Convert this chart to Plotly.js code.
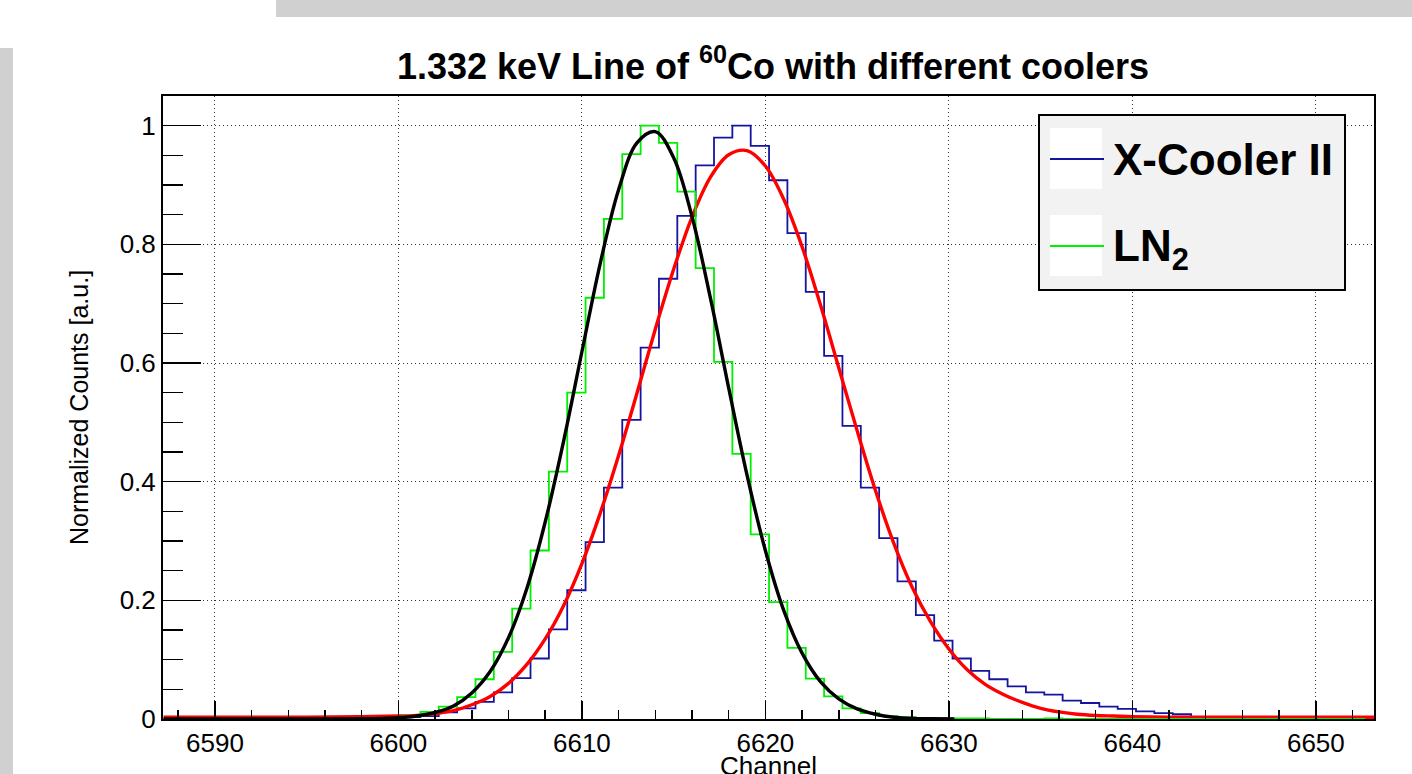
<!DOCTYPE html>
<html><head><meta charset="utf-8">
<script src="https://cdn.plot.ly/plotly-3.0.1.min.js"></script>
<style>
html,body{margin:0;padding:0;background:#fff;overflow:hidden;width:1412px;height:774px;}
#wrap{position:absolute;left:0;top:0;width:1412px;height:774px;overflow:hidden;}
#chart{position:absolute;left:0;top:0;width:1412px;height:781px;}
.gray{position:absolute;background:#d0d0d0;}
</style></head><body>
<div id="wrap"><div id="chart"></div></div>
<div class="gray" style="left:276px;top:0;width:1136px;height:17px;"></div>
<div class="gray" style="left:0;top:48px;width:13px;height:726px;"></div>
<script>
// ---- data ----
const channels = [6587.7,6588.7,6589.7,6590.7,6591.7,6592.7,6593.7,6594.7,6595.7,6596.7,
  6597.7,6598.7,6599.7,6600.7,6601.7,6602.7,6603.7,6604.7,6605.7,6606.7,
  6607.7,6608.7,6609.7,6610.7,6611.7,6612.7,6613.7,6614.7,6615.7,6616.7,
  6617.7,6618.7,6619.7,6620.7,6621.7,6622.7,6623.7,6624.7,6625.7,6626.7,
  6627.7,6628.7,6629.7,6630.7,6631.7,6632.7,6633.7,6634.7,6635.7,6636.7,
  6637.7,6638.7,6639.7,6640.7,6641.7,6642.7,6643.7,6644.7,6645.7,6646.7,
  6647.7,6648.7,6649.7,6650.7,6651.7,6652.7];
const xcoolerCounts = [0,0,0,0,0,0,0,0,0,0,
  0,0,0.001,0.003,0.005,0.011,0.018,0.029,0.045,0.069,
  0.102,0.151,0.217,0.298,0.390,0.504,0.626,0.742,0.848,0.933,
  0.980,1.000,0.966,0.908,0.819,0.720,0.612,0.494,0.390,0.305,
  0.232,0.175,0.132,0.102,0.081,0.067,0.055,0.045,0.041,0.031,
  0.027,0.021,0.017,0.013,0.010,0.008,0,0,0,0,
  0,0,0,0,0,0];
const ln2Counts = [0,0,0,0,0,0,0,0,0,0,
  0,0.001,0.002,0.005,0.012,0.021,0.037,0.067,0.113,0.186,
  0.284,0.417,0.550,0.710,0.843,0.952,1.000,0.971,0.889,0.760,
  0.602,0.447,0.311,0.197,0.120,0.068,0.038,0.018,0.010,0.005,
  0.003,0.002,0.001,0.001,0.001,0,0,0,0.001,0,
  0,0,0,0,0,0,0,0,0,0,
  0,0,0,0,0,0];
const redFitX = [6587.2,6595,6598,6600,6601,6602,6603,6604,6605,6606,6607,6608,6609,6610,
  6611,6612,6613,6614,6615,6616,6617,6618,6619,6620,6621,6622,6623,6624,6625,6626,6627,
  6628,6629,6630,6631,6632,6633,6634,6635,6636,6637,6638,6639,6640,6642,6645,6653.2];
const redFitY = [0.003,0.003,0.004,0.005,0.006,0.009,0.014,0.024,0.038,0.060,0.092,0.135,0.191,0.262,
  0.347,0.444,0.549,0.657,0.758,0.846,0.913,0.951,0.958,0.932,0.876,0.796,0.698,0.592,0.486,0.385,0.296,
  0.222,0.164,0.118,0.083,0.058,0.041,0.028,0.018,0.012,0.008,0.006,0.005,0.004,0.003,0.003,0.003];
const blackFitX = [6587.2,6595,6598,6599,6600,6601,6602,6603,6604,6605,6606,6607,6608,6609,6610,
  6611,6612,6613,6614,6615,6616,6617,6618,6619,6620,6621,6622,6623,6624,6625,6626,6627,
  6628,6629,6630.3];
const blackFitY = [0,0,0.0003,0.0008,0.002,0.005,0.011,0.022,0.044,0.080,0.137,0.220,0.332,0.468,0.619,
  0.768,0.892,0.971,0.990,0.946,0.847,0.710,0.558,0.411,0.284,0.183,0.111,0.063,0.034,0.017,0.008,0.003,
  0.001,0.0005,0];
const seriesNames = ['X-Cooler II', 'LN<sub>2</sub>'];
const xTickStart = 6590, xTickStep = 10, yTickStep = 0.2;
const chartTitle = '1.332 keV Line of <sup>60</sup>Co with different coolers';
const xTitle = 'Channel', yTitle = 'Normalized Counts [a.u.]';

// ---- layout helpers (pixel geometry of the frame) ----
const FONT = 'Liberation Sans, Arial, Helvetica, sans-serif';
const W = 1412, H = 781;               // figure is slightly taller than the window: its bottom is cropped like the reference
const L = 163, R = 1374, T = 96, B = 719;
const px = p => (p - L) / (R - L);
const py = p => (B - p) / (B - T);

const traces = [
  {x: channels, y: xcoolerCounts, mode: 'lines', name: seriesNames[0], showlegend: false,
   line: {shape: 'hvh', color: '#1414a0', width: 1.8}},
  {x: redFitX, y: redFitY, mode: 'lines', name: 'fit X-Cooler II', showlegend: false,
   line: {shape: 'spline', color: '#ff0000', width: 3.4}},
  {x: channels, y: ln2Counts, mode: 'lines', name: 'LN2', showlegend: false,
   line: {shape: 'hvh', color: '#00f000', width: 1.8}},
  {x: blackFitX, y: blackFitY, mode: 'lines', name: 'fit LN2', showlegend: false,
   line: {shape: 'spline', color: '#000000', width: 3.4}}
];

const shapes = [
  {type: 'rect', xref: 'paper', yref: 'paper', x0: px(1039), x1: px(1345), y0: py(290), y1: py(115),
   fillcolor: '#f2f2f2', line: {color: '#000', width: 2}, layer: 'above'},
  {type: 'rect', xref: 'paper', yref: 'paper', x0: px(1050), x1: px(1102), y0: py(189), y1: py(128),
   fillcolor: '#ffffff', line: {width: 0}, layer: 'above'},
  {type: 'rect', xref: 'paper', yref: 'paper', x0: px(1050), x1: px(1102), y0: py(276), y1: py(215),
   fillcolor: '#ffffff', line: {width: 0}, layer: 'above'},
  {type: 'line', xref: 'paper', yref: 'paper', x0: px(1050), x1: px(1104), y0: py(159), y1: py(159),
   line: {color: '#1414a0', width: 1.8}, layer: 'above'},
  {type: 'line', xref: 'paper', yref: 'paper', x0: px(1050), x1: px(1104), y0: py(246), y1: py(246),
   line: {color: '#00f000', width: 1.8}, layer: 'above'}
];

const annotations = [
  {xref: 'paper', yref: 'paper', x: px(1111), y: py(159), xanchor: 'left', yanchor: 'middle',
   text: seriesNames[0], showarrow: false, font: {family: FONT, size: 44, weight: 'bold', color: '#000'}},
  {xref: 'paper', yref: 'paper', x: px(1111), y: py(249), xanchor: 'left', yanchor: 'middle',
   text: seriesNames[1], showarrow: false, font: {family: FONT, size: 44, weight: 'bold', color: '#000'}}
];

const axisCommon = {
  ticks: 'inside', tickcolor: '#000', tickwidth: 1.5,
  showline: true, mirror: true, linecolor: '#000', linewidth: 2,
  showgrid: true, gridcolor: '#333', gridwidth: 1, griddash: '1px,3px',
  zeroline: false, automargin: false,
  tickfont: {family: FONT, size: 26, color: '#000'}
};

const layout = {
  width: W, height: H,
  margin: {l: L, r: W - R, t: T, b: H - B, pad: 0},
  paper_bgcolor: '#fff', plot_bgcolor: '#fff',
  showlegend: false,
  title: {text: chartTitle, font: {family: FONT, size: 36, weight: 'bold', color: '#000'},
          xref: 'paper', x: px(773), xanchor: 'center', yref: 'container', y: 1 - 66 / H, yanchor: 'middle'},
  xaxis: Object.assign({}, axisCommon, {
    range: [6587.17, 6653.17], tick0: xTickStart, dtick: xTickStep, ticklen: 18,
    minor: {ticks: 'inside', dtick: 2, ticklen: 9, tickcolor: '#000', tickwidth: 1.5, showgrid: false},
    title: {text: xTitle, font: {family: FONT, size: 26, color: '#000'}, standoff: 30}
  }),
  yaxis: Object.assign({}, axisCommon, {
    range: [0, 1.05], tick0: 0, dtick: yTickStep, ticklen: 38,
    minor: {ticks: 'inside', dtick: 0.05, ticklen: 20, tickcolor: '#000', tickwidth: 1.5, showgrid: false},
    title: {text: yTitle, font: {family: FONT, size: 25, color: '#000'}, standoff: 24}
  }),
  shapes: shapes,
  annotations: annotations
};

Plotly.newPlot('chart', traces, layout, {staticPlot: true, displayModeBar: false});
</script>
</body></html>
